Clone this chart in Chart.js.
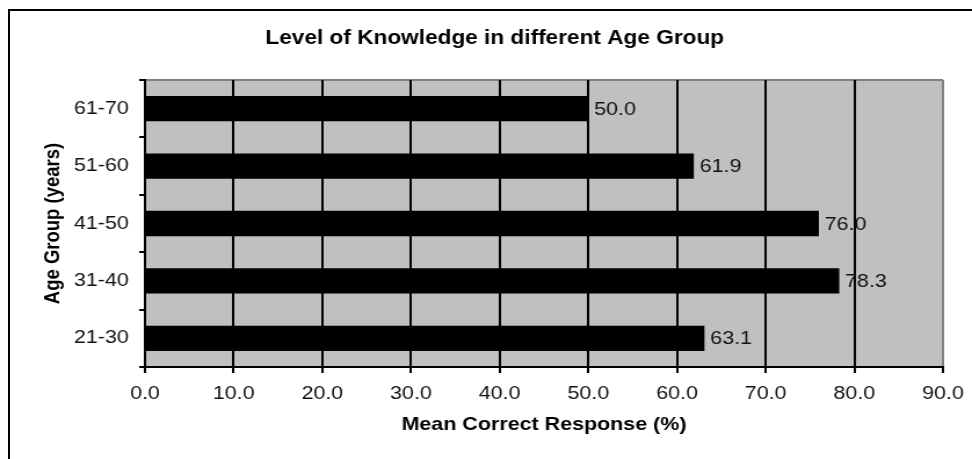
<!DOCTYPE html>
<html>
<head>
<meta charset="utf-8">
<script src="https://cdn.jsdelivr.net/npm/chart.js@4"></script>
<style>
  body { margin: 0; background: #fff; overflow: hidden; }
  #wrap { position: relative; width: 972px; height: 459px; overflow: hidden; }
  #frame { position: absolute; left: 8px; top: 9px; right: -4px; bottom: -4px;
           border-left: 2px solid #000; border-top: 2px solid #000; }
  /* the original picture is a little wider than it is tall-correct, so the chart is stretched sideways */
  #stretch { position: absolute; left: 0; top: 0; width: 838px; height: 459px;
             transform: scaleX(1.1599); transform-origin: 0 0; }
</style>
</head>
<body>
<div id="wrap">
  <div id="frame"></div>
  <div id="stretch">
    <canvas id="knowledgeChart" width="838" height="459"></canvas>
  </div>
</div>
<script>
const ageGroups = ['61-70', '51-60', '41-50', '31-40', '21-30'];
const meanCorrect = [50.0, 61.9, 76.0, 78.3, 63.1];
const xMin = 0, xMax = 90, xStep = 10;

const FONT = '"Liberation Sans", Arial, sans-serif';

// grey plot background with a grey top edge
const plotBackground = {
    id: 'plotBackground',
    beforeDraw(chart) {
        const {ctx, chartArea: a} = chart;
        ctx.save();
        ctx.fillStyle = '#c0c0c0';
        ctx.fillRect(a.left, a.top, a.right - a.left, a.bottom - a.top);
        ctx.strokeStyle = '#808080';
        ctx.lineWidth = 2;
        ctx.beginPath();
        ctx.moveTo(a.left, a.top);
        ctx.lineTo(a.right, a.top);
        ctx.stroke();
        ctx.restore();
    }
};

// value written after the end of each bar
const barValues = {
    id: 'barValues',
    afterDatasetsDraw(chart) {
        const {ctx} = chart;
        const meta = chart.getDatasetMeta(0);
        ctx.save();
        ctx.font = '18.5px ' + FONT;
        ctx.fillStyle = '#111';
        ctx.textBaseline = 'middle';
        ctx.textAlign = 'left';
        meta.data.forEach((bar, i) => {
            ctx.fillText(meanCorrect[i].toFixed(1), bar.x + 5, bar.y + 1);
        });
        ctx.restore();
    }
};

new Chart(document.getElementById('knowledgeChart'), {
    type: 'bar',
    data: {
        labels: ageGroups,
        datasets: [{
            data: meanCorrect,
            backgroundColor: '#000',
            barPercentage: 0.44,
            categoryPercentage: 1
        }]
    },
    options: {
        indexAxis: 'y',
        responsive: false,
        animation: false,
        events: [],
        layout: { padding: { left: 40, right: 25, top: 0, bottom: 0 } },
        plugins: {
            legend: { display: false },
            tooltip: { enabled: false },
            title: {
                display: true,
                text: 'Level of Knowledge in different Age Group',
                color: '#000',
                font: { family: FONT, size: 19.5, weight: 'bold' },
                padding: { top: 27, bottom: 29.6 }
            }
        },
        scales: {
            x: {
                min: xMin,
                max: xMax,
                ticks: {
                    stepSize: xStep,
                    color: '#111',
                    font: { family: FONT, size: 18.5 },
                    padding: 10,
                    callback: v => v.toFixed(1)
                },
                grid: {
                    color: c => c.tick && c.tick.value === xMax ? '#808080' : '#000',
                    lineWidth: 2,
                    tickColor: '#000',
                    tickLength: 6
                },
                border: { color: '#000', width: 2 },
                title: {
                    display: true,
                    text: 'Mean Correct Response (%)',
                    color: '#000',
                    font: { family: FONT, size: 18.5, weight: 'bold' },
                    padding: { top: 0, bottom: 23 }
                },
                afterFit(scale) {
                    scale.height = 92;
                    scale.paddingLeft = 0;
                    scale.paddingRight = 0;
                }
            },
            y: {
                ticks: {
                    color: '#111',
                    font: { family: FONT, size: 18.5 },
                    padding: 9
                },
                grid: {
                    drawOnChartArea: false,
                    color: '#000',
                    lineWidth: 2,
                    tickLength: 5
                },
                border: { color: '#000', width: 2 },
                title: {
                    display: true,
                    text: 'Age Group (years)',
                    color: '#000',
                    font: { family: FONT, size: 18.5, weight: 'bold' },
                    padding: { top: -5.5, bottom: 0 }
                },
                afterFit(scale) { scale.width = 85; }
            }
        }
    },
    plugins: [plotBackground, barValues]
});
</script>
</body>
</html>
